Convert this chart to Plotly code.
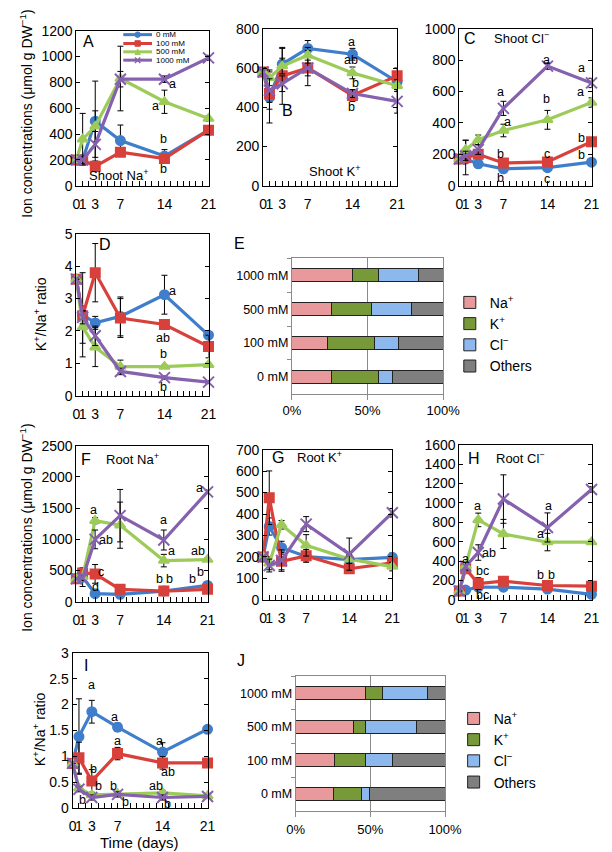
import plotly.graph_objects as go

W, H = 612, 852
FONT = "Arial, Liberation Sans, sans-serif"

# ---------------- data ----------------
days = [0, 1, 3, 7, 14, 21]
day_tick_labels = ["0", "1", "3", "7", "14", "21"]
treatments = ["0 mM", "100 mM", "500 mM", "1000 mM"]

# each list: [0 mM, 100 mM, 500 mM, 1000 mM] series over days
shoot_na = [[200, 200, 500, 350, 230, 430],
            [200, 200, 150, 260, 210, 430],
            [200, 360, 460, 830, 650, 520],
            [200, 200, 320, 825, 825, 990]]
shoot_na_err = [[0, 0, 310, 120, 50, 20],
                [0, 30, 40, 30, 30, 20],
                [0, 200, 120, 250, 90, 20],
                [0, 30, 100, 60, 25, 20]]

shoot_k = [[580, 450, 620, 700, 670, 530],
           [580, 470, 560, 600, 460, 560],
           [580, 550, 610, 665, 575, 510],
           [580, 485, 520, 600, 470, 430]]
shoot_k_err = [[20, 130, 80, 40, 30, 40],
               [20, 80, 145, 90, 30, 40],
               [20, 40, 40, 40, 30, 30],
               [20, 60, 40, 40, 20, 60]]

shoot_cl = [[170, 170, 140, 108, 115, 150],
            [170, 180, 200, 145, 152, 280],
            [170, 230, 293, 352, 420, 530],
            [170, 190, 230, 493, 762, 655]]
shoot_cl_err = [[0, 0, 20, 10, 10, 10],
                [0, 110, 20, 20, 20, 20],
                [0, 60, 30, 40, 60, 30],
                [0, 30, 30, 45, 20, 30]]

shoot_ratio = [[3.6, 2.5, 2.25, 2.45, 3.12, 1.87],
               [3.6, 2.47, 3.8, 2.4, 2.2, 1.52],
               [3.6, 2.12, 1.5, 0.9, 0.9, 0.96],
               [3.6, 2.42, 1.85, 0.75, 0.56, 0.42]]
shoot_ratio_err = [[0, 1.3, 0.2, 0.6, 0.6, 0.05],
                   [0, 0.3, 0.9, 0.6, 0.15, 0.35],
                   [0, 0.5, 0.6, 0.2, 0.05, 0.05],
                   [0, 0.2, 0.3, 0.1, 0.05, 0.05]]

root_na = [[370, 395, 130, 120, 172, 262],
           [370, 463, 447, 200, 172, 200],
           [370, 400, 1300, 1228, 660, 676],
           [370, 380, 1000, 1380, 990, 1762]]
root_na_err = [[0, 150, 30, 20, 20, 40],
               [0, 60, 150, 30, 20, 40],
               [0, 50, 50, 370, 100, 30],
               [0, 40, 150, 420, 160, 30]]

root_k = [[200, 342, 243, 202, 187, 198],
          [200, 476, 180, 205, 145, 172],
          [200, 170, 350, 254, 190, 155],
          [200, 160, 183, 353, 213, 406]]
root_k_err = [[0, 40, 30, 20, 20, 20],
              [0, 125, 40, 30, 15, 20],
              [0, 30, 20, 50, 20, 20],
              [0, 30, 50, 35, 75, 20]]

root_cl = [[91, 101, 131, 130, 111, 57],
           [91, 320, 168, 192, 148, 141],
           [91, 350, 825, 680, 596, 596],
           [91, 347, 488, 1040, 747, 1138]]
root_cl_err = [[0, 10, 20, 20, 20, 10],
               [0, 30, 60, 30, 20, 20],
               [0, 40, 70, 150, 90, 20],
               [0, 40, 80, 250, 150, 30]]

root_ratio = [[0.86, 1.38, 1.86, 1.56, 1.08, 1.52],
              [0.86, 0.97, 0.52, 1.05, 0.87, 0.87],
              [0.86, 0.38, 0.25, 0.27, 0.29, 0.23],
              [0.86, 0.36, 0.2, 0.26, 0.2, 0.22]]
root_ratio_err = [[0, 0.73, 0.22, 0.08, 0.18, 0.03],
                  [0, 0.3, 0.22, 0.12, 0.12, 0.05],
                  [0, 0.05, 0.05, 0.05, 0.05, 0.02],
                  [0, 0.05, 0.05, 0.05, 0.05, 0.02]]

# significance letters: (day, value, text)
letters_A = [(15.2, 790, "a"), (12.6, 619, "a"), (13.9, 358, "b"), (13.9, 131, "b")]
letters_B = [(13.8, 730, "a"), (13.8, 642, "ab"), (14.4, 525, "b"), (13.8, 403, "b")]
letters_C = [(6.5, 594, "a"), (7.7, 406, "a"), (6.5, 204, "b"), (6.5, 52, "b"),
             (13.9, 798, "a"), (13.9, 552, "b"), (13.9, 202, "c"), (13.9, 46, "c"),
             (19.4, 750, "a"), (19.2, 594, "a"), (19.4, 306, "b"), (19.4, 198, "b")]
letters_D = [(15.2, 3.23, "a"), (13.8, 1.79, "ab"), (13.8, 1.29, "b"), (13.8, 0.28, "b")]
letters_F = [(2.75, 1474, "a"), (4.7, 984, "ab"), (4.0, 484, "c"), (3.0, 237, "d"),
             (13.9, 1316, "a"), (15.3, 816, "a"), (13.3, 368, "b"), (14.9, 368, "b"),
             (19.7, 1826, "a"), (19.4, 816, "ab"), (19.9, 484, "b"), (18.6, 368, "b")]
letters_G = []
letters_H = [(0.98, 421, "a"), (2.9, 970, "a"), (4.7, 488, "ab"), (3.6, 296, "bc"), (3.6, 50, "bc"),
             (14.2, 970, "a"), (12.9, 680, "a"), (12.9, 259, "b"), (14.6, 259, "b")]
letters_I = [(3.0, 2.38, "a"), (3.3, 0.76, "b"), (4.0, 0.43, "b"), (1.5, 0.16, "b"),
             (6.5, 1.75, "a"), (7.0, 1.30, "a"), (6.3, 0.43, "b"), (8.2, 0.11, "b"),
             (13.6, 1.30, "a"), (14.9, 0.69, "ab"), (13.0, 0.43, "ab"), (14.7, 0.08, "b")]

# composition (% of total ions), categories in treatments order
components = ["Na<sup>+</sup>", "K<sup>+</sup>", "Cl<sup>−</sup>", "Others"]
shoot_comp_na = [26.3, 23.8, 26.3, 40.0]
shoot_comp_k = [31.2, 31.0, 26.7, 17.3]
shoot_comp_cl = [9.3, 15.8, 26.3, 26.5]
shoot_comp_other = [33.2, 29.4, 20.7, 16.2]
root_comp_na = [25.5, 25.7, 38.5, 46.9]
root_comp_k = [18.8, 21.4, 8.6, 11.3]
root_comp_cl = [5.4, 18.0, 34.1, 30.0]
root_comp_other = [50.3, 34.9, 18.8, 11.8]

# ---------------- styles ----------------
line_colors = ["#3F7ECB", "#D8403B", "#9DCB5A", "#8561AE"]
line_symbols = ["circle", "square", "triangle-up", "x-thin-open"]
comp_colors = ["#E8999C", "#77993A", "#8DB8EE", "#7F7F7F"]


def pxx(x):
    return x / W


def pxy(y):
    return 1 - y / H


fig = go.Figure()
layout = dict(width=W, height=H, margin=dict(l=0, r=0, t=0, b=0),
              paper_bgcolor="white", plot_bgcolor="white",
              font=dict(family=FONT, color="black", size=13),
              showlegend=True)
annotations = []
shapes = []

line_panels = [
    (1, shoot_na, shoot_na_err, 1200, 200, (62, 200, 15, 173), letters_A),
    (2, shoot_k, shoot_k_err, 800, 200, (257, 397, 13, 173), letters_B),
    (3, shoot_cl, shoot_cl_err, 1000, 200, (462, 600, 13, 173), letters_C),
    (4, shoot_ratio, shoot_ratio_err, 5, 1, (62, 200, 222, 387), letters_D),
    (6, root_na, root_na_err, 2500, 500, (62, 199, 438, 597), letters_F),
    (7, root_k, root_k_err, 700, 100, (257, 392, 442, 595), letters_G),
    (8, root_cl, root_cl_err, 1600, 200, (462, 600, 437, 595), letters_H),
    (9, root_ratio, root_ratio_err, 3, 0.5, (58, 199, 649, 807), letters_I),
]

all_days = list(range(22))
tick_text = [day_tick_labels[days.index(d)] if d in days else "" for d in all_days]

for n, series, errs, ymax, dtick, box, letters in line_panels:
    sfx = "" if n == 1 else str(n)
    x0, x1, y0, y1 = box
    layout["xaxis" + sfx] = dict(domain=[pxx(x0), pxx(x1)], range=[0, 21], anchor="y" + sfx,
                                 tickmode="array", tickvals=all_days, ticktext=tick_text,
                                 ticks="inside", ticklen=5, tickcolor="black", tickangle=0,
                                 showline=True, linecolor="black", linewidth=1, mirror=True,
                                 showgrid=False, zeroline=False, ticklabelstandoff=5,
                                 tickfont=dict(size=14))
    layout["yaxis" + sfx] = dict(domain=[pxy(y1), pxy(y0)], range=[0, ymax], anchor="x" + sfx,
                                 dtick=dtick, ticks="inside", ticklen=4, tickcolor="black",
                                 showline=True, linecolor="black", linewidth=1, mirror="ticks",
                                 showgrid=False, zeroline=False, tickfont=dict(size=14))
    for i in range(4):
        fig.add_trace(go.Scatter(
            x=days, y=series[i], mode="lines+markers", name=treatments[i],
            xaxis="x" + sfx, yaxis="y" + sfx, showlegend=False, cliponaxis=False,
            line=dict(color=line_colors[i], width=3.2),
            marker=dict(symbol=line_symbols[i], size=9 if i != 3 else 11, color=line_colors[i],
                        line=dict(color=line_colors[i], width=2)),
            error_y=dict(type="data", array=errs[i], color="black", thickness=1, width=3)))
    for (dx, dy, t) in letters:
        annotations.append(dict(x=dx, y=dy, xref="x" + sfx, yref="y" + sfx, text=t,
                                showarrow=False, font=dict(size=12.5)))

# ---------- composition bar panels ----------
bar_panels = [
    (5, [shoot_comp_na, shoot_comp_k, shoot_comp_cl, shoot_comp_other], (287, 445, 247, 385), "legend2", 276, 452, 0),
    (10, [root_comp_na, root_comp_k, root_comp_cl, root_comp_other], (291, 447, 673, 810), "legend3", 700, 456, 2),
]
for n, comps, box, leg, legtop, legx, standoff in bar_panels:
    sfx = str(n)
    x0, x1, y0, y1 = box
    layout["xaxis" + sfx] = dict(domain=[pxx(x0), pxx(x1)], range=[0, 100], anchor="y" + sfx,
                                 tickmode="array", tickvals=[0, 50, 100], ticktext=["0%", "50%", "100%"],
                                 ticks="outside", ticklen=5, tickcolor="#8a8a8a",
                                 showline=True, linecolor="#8a8a8a", linewidth=1, mirror=True,
                                 showgrid=True, gridcolor="#8a8a8a", gridwidth=1, zeroline=False,
                                 ticklabelstandoff=standoff, tickfont=dict(size=13))
    layout["yaxis" + sfx] = dict(domain=[pxy(y1), pxy(y0)], anchor="x" + sfx, type="category",
                                 categoryorder="array", categoryarray=treatments,
                                 ticks="outside", ticklen=4, tickcolor="#8a8a8a", tickson="boundaries",
                                 showline=True, linecolor="#8a8a8a", linewidth=1, mirror=True,
                                 showgrid=False, zeroline=False, tickfont=dict(size=12.5))
    for j in range(4):
        fig.add_trace(go.Bar(
            x=comps[j], y=treatments, orientation="h", name=components[j],
            xaxis="x" + sfx, yaxis="y" + sfx, width=0.38, legend=leg,
            marker=dict(color=comp_colors[j], line=dict(color="#222222", width=1))))
    layout[leg] = dict(x=pxx(legx), y=pxy(legtop), xanchor="left", yanchor="top",
                       traceorder="normal", font=dict(size=14), bgcolor="rgba(0,0,0,0)",
                       itemclick=False)

layout["barmode"] = "stack"

# ---------- manual legend for panel A ----------
leg_rows = [19, 28, 36.5, 45]
for i in range(4):
    yy = leg_rows[i]
    shapes.append(dict(type="line", xref="paper", yref="paper", x0=pxx(111), x1=pxx(141),
                       y0=pxy(yy), y1=pxy(yy), line=dict(color=line_colors[i], width=3)))
    cx = 126
    r = 2.8
    if i == 0:
        shapes.append(dict(type="circle", xref="paper", yref="paper", x0=pxx(cx - r), x1=pxx(cx + r),
                           y0=pxy(yy + r), y1=pxy(yy - r), fillcolor=line_colors[i],
                           line=dict(color=line_colors[i], width=1)))
    elif i == 1:
        shapes.append(dict(type="rect", xref="paper", yref="paper", x0=pxx(cx - r), x1=pxx(cx + r),
                           y0=pxy(yy + r), y1=pxy(yy - r), fillcolor=line_colors[i],
                           line=dict(color=line_colors[i], width=1)))
    elif i == 2:
        path = "M %f,%f L %f,%f L %f,%f Z" % (pxx(cx - r), pxy(yy + r), pxx(cx + r), pxy(yy + r),
                                              pxx(cx), pxy(yy - r))
        shapes.append(dict(type="path", xref="paper", yref="paper", path=path,
                           fillcolor=line_colors[i], line=dict(color=line_colors[i], width=1)))
    else:
        path = "M %f,%f L %f,%f M %f,%f L %f,%f" % (pxx(cx - r), pxy(yy - r), pxx(cx + r), pxy(yy + r),
                                                  pxx(cx - r), pxy(yy + r), pxx(cx + r), pxy(yy - r))
        shapes.append(dict(type="path", xref="paper", yref="paper", path=path,
                           line=dict(color=line_colors[i], width=1.5)))
    annotations.append(dict(x=pxx(143), y=pxy(yy), xref="paper", yref="paper", text=treatments[i],
                            xanchor="left", yanchor="middle", showarrow=False, font=dict(size=8)))

# ---------- panel labels and titles ----------
texts = [
    ("A", 75, 26, 16), ("B", 283, 96, 16), ("C", 473, 23, 16), ("D", 92, 233, 16),
    ("E", 232, 232, 16), ("F", 72, 452, 16), ("G", 273, 450, 16), ("H", 477, 451, 16),
    ("I", 72, 662, 16), ("J", 234, 657, 16),
    ("Shoot Na<sup>+</sup>", 107, 162, 13), ("Shoot K<sup>+</sup>", 332, 158, 13),
    ("Shoot Cl<sup>−</sup>", 527, 22, 13), ("Root Na<sup>+</sup>", 121, 451, 13),
    ("Root K<sup>+</sup>", 316, 449, 13), ("Root Cl<sup>−</sup>", 526, 450, 13),
    ("Time (days)", 128, 842, 15),
]
for t, x, y, s in texts:
    annotations.append(dict(x=pxx(x), y=pxy(y), xref="paper", yref="paper", text=t,
                            showarrow=False, xanchor="center", yanchor="middle", font=dict(size=s)))

ylabels = [
    ("Ion concentrations (μmol g DW<sup>−1</sup>)", 10, 100),
    ("K<sup>+</sup>/Na<sup>+</sup> ratio", 24, 304),
    ("Ion concentrations (μmol g DW<sup>−1</sup>)", 10, 522),
    ("K<sup>+</sup>/Na<sup>+</sup> ratio", 23, 727),
]
for t, x, y in ylabels:
    annotations.append(dict(x=pxx(x), y=pxy(y), xref="paper", yref="paper", text=t, textangle=-90,
                            showarrow=False, xanchor="center", yanchor="middle", font=dict(size=14)))

layout["annotations"] = annotations
layout["shapes"] = shapes
fig.update_layout(**layout)
fig.write_html("out.html")
